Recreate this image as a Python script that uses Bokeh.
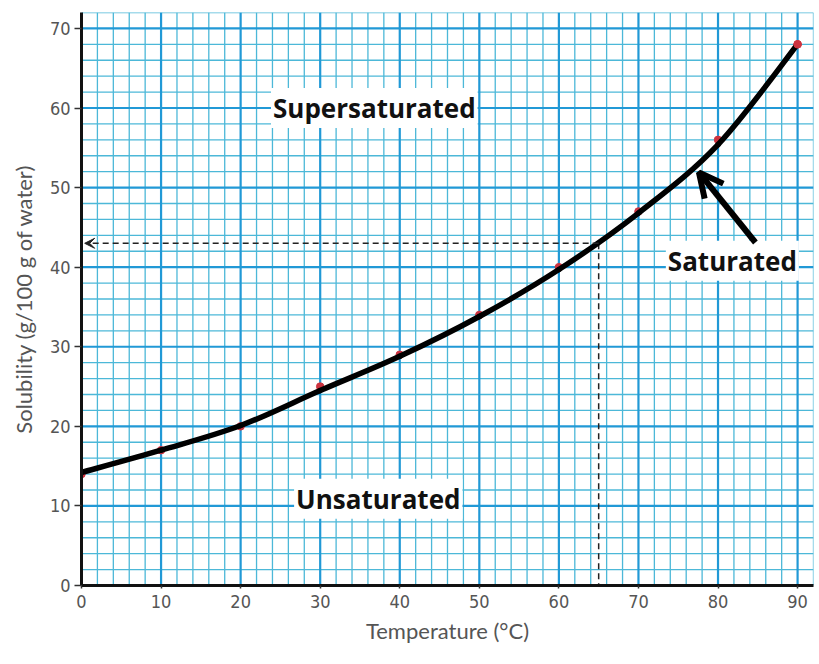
from bokeh.plotting import figure
from bokeh.models import Range1d, FixedTicker, Label, Arrow, OpenHead, VeeHead
from bokeh.embed import file_html
from bokeh.resources import INLINE

# ---- data ----
temperature = [0, 10, 20, 30, 40, 50, 60, 70, 80, 90]
solubility = [14, 17, 20, 25, 29, 34, 40, 47, 56, 68]
# smooth best-fit curve drawn through the points
curve_temp = [0, 10, 20, 30, 40, 50, 60, 70, 80, 90]
curve_sol = [14.2, 17.0, 20.1, 24.5, 28.8, 33.8, 39.7, 46.8, 55.4, 68.0]
x_ticks = [0, 10, 20, 30, 40, 50, 60, 70, 80, 90]
y_ticks = [0, 10, 20, 30, 40, 50, 60, 70]
read_temp = 65
read_sol = 43
region_labels = ["Supersaturated", "Unsaturated", "Saturated"]

X_MAX, Y_MAX = 92, 72
p = figure(width=819, height=664, output_backend="svg", toolbar_location=None,
           x_range=Range1d(0, X_MAX), y_range=Range1d(0, Y_MAX),
           min_border_left=81, min_border_right=6, min_border_top=12, min_border_bottom=79)
p.outline_line_color = None
p.background_fill_color = "white"
p.border_fill_color = "white"
p.xgrid.visible = False
p.ygrid.visible = False

# graph-paper grid drawn as segments
x_minor = [v for v in range(0, X_MAX + 1, 2) if v % 10]
y_minor = [v for v in range(0, Y_MAX + 1, 2) if v % 10]
MINOR_C, MAJOR_C = "#4cb8d8", "#2199d6"
p.segment(x0=x_minor, y0=[0] * len(x_minor), x1=x_minor, y1=[Y_MAX] * len(x_minor),
          line_color=MINOR_C, line_width=1.3)
p.segment(x0=[0] * len(y_minor), y0=y_minor, x1=[X_MAX] * len(y_minor), y1=y_minor,
          line_color=MINOR_C, line_width=1.3)
p.segment(x0=x_ticks, y0=[0] * len(x_ticks), x1=x_ticks, y1=[Y_MAX] * len(x_ticks),
          line_color=MAJOR_C, line_width=2.2)
p.segment(x0=[0] * len(y_ticks), y0=y_ticks, x1=[X_MAX] * len(y_ticks), y1=y_ticks,
          line_color=MAJOR_C, line_width=2.2)

p.xaxis.ticker = FixedTicker(ticks=x_ticks)
p.yaxis.ticker = FixedTicker(ticks=y_ticks)

narrow = "'Liberation Sans Narrow', 'DejaVu Sans Condensed', sans-serif"
for ax in (p.xaxis, p.yaxis):
    ax.axis_line_color = "#111111"
    ax.axis_line_width = 3
    ax.major_tick_line_color = "#333333"
    ax.major_tick_line_width = 1.5
    ax.major_tick_in = 0
    ax.minor_tick_line_color = None
    ax.major_label_text_font = narrow
    ax.major_label_text_font_size = "18px"
    ax.major_label_text_color = "#555555"
    ax.axis_label_text_font = "Lato"
    ax.axis_label_text_font_style = "normal"
    ax.axis_label_text_font_size = "22px"
    ax.axis_label_text_color = "#555555"
p.yaxis.major_tick_out = 7
p.xaxis.major_tick_out = 3
p.xaxis.major_label_standoff = 6
p.yaxis.major_label_standoff = 4
p.xaxis.axis_label = "Temperature (°C)"
p.yaxis.axis_label = "Solubility (g/100 g of water)"
p.xaxis.axis_label_standoff = 6
p.yaxis.axis_label_standoff = 10

# dashed reading lines
p.segment(x0=[read_temp], y0=[read_sol], x1=[read_temp], y1=[0],
          line_color="#222222", line_width=1.5, line_dash="6 4")
p.add_layout(Arrow(end=VeeHead(size=10, fill_color="#222222", line_color="#222222"),
                   x_start=read_temp, y_start=read_sol, x_end=0.4, y_end=read_sol,
                   line_color="#222222", line_width=1.5, line_dash="6 4"))

# data points
p.scatter(temperature, solubility, size=7.5, color="#cc3340")

# smooth curve (Catmull-Rom -> Bezier) through the fitted curve values
n = len(curve_temp)
P = list(zip(curve_temp, curve_sol))
x0, y0, x1, y1, cx0, cy0, cx1, cy1 = [], [], [], [], [], [], [], []
for i in range(n - 1):
    pm = P[max(i - 1, 0)]
    pa = P[i]
    pb = P[i + 1]
    pp = P[min(i + 2, n - 1)]
    x0.append(pa[0]); y0.append(pa[1]); x1.append(pb[0]); y1.append(pb[1])
    cx0.append(pa[0] + (pb[0] - pm[0]) / 6); cy0.append(pa[1] + (pb[1] - pm[1]) / 6)
    cx1.append(pb[0] - (pp[0] - pa[0]) / 6); cy1.append(pb[1] - (pp[1] - pa[1]) / 6)
p.bezier(x0=x0, y0=y0, x1=x1, y1=y1, cx0=cx0, cy0=cy0, cx1=cx1, cy1=cy1,
         line_color="black", line_width=5.5, line_cap="round")
p.scatter(temperature[-1:], solubility[-1:], size=7.5, color="#cc3340")

# region labels
label_pos = [(36.8, 60.0), (37.3, 10.9), (81.8, 40.8)]
for txt, (lx, ly) in zip(region_labels, label_pos):
    p.add_layout(Label(x=lx, y=ly, text=txt, text_align="center", text_baseline="middle",
                       text_font="Open Sans", text_font_style="bold", text_font_size="26px",
                       text_color="#111111", background_fill_color="white",
                       border_line_color=None, padding=2))

# saturated arrow
p.add_layout(Arrow(end=OpenHead(size=24, line_width=6, line_color="black"),
                   x_start=84.7, y_start=43.1, x_end=77.6, y_end=51.9,
                   line_color="black", line_width=6))

open("out.html", "w").write(file_html(p, INLINE))
